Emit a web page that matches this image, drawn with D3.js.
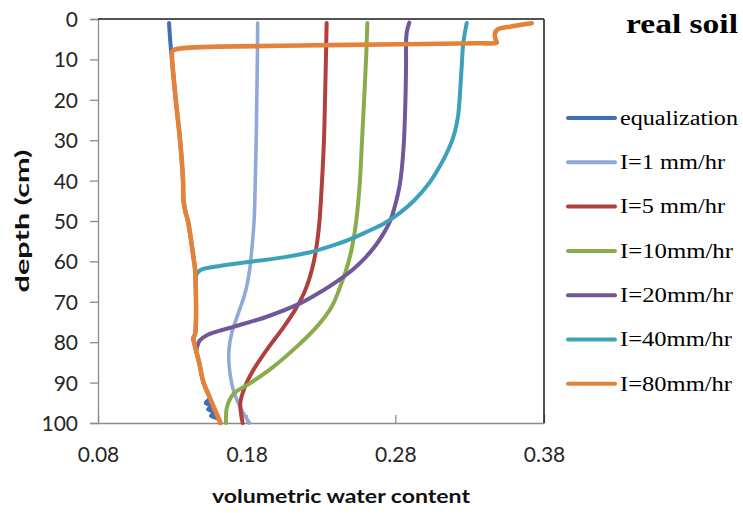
<!DOCTYPE html>
<html>
<head>
<meta charset="utf-8">
<script src="https://cdn.jsdelivr.net/npm/d3@7"></script>
<style>
  html, body { margin: 0; padding: 0; background: #ffffff; }
  svg { display: block; }
</style>
</head>
<body>
<svg id="chart" width="743" height="513"></svg>
<script>
// Soil moisture profiles: [depth (cm), volumetric water content]
const equalization = [
  [1, 0.1278], [4, 0.1283], [8, 0.1292], [10, 0.1298], [20, 0.1323], [30, 0.1352],
  [40, 0.1372], [45, 0.1375], [48, 0.1390], [50, 0.1405], [60, 0.1446], [62, 0.1453],
  [78, 0.1453], [79, 0.1441], [80, 0.1446], [85, 0.1480], [90, 0.1510], [93, 0.1545],
  [94, 0.1550], [95, 0.1525], [95.8, 0.1565], [96.6, 0.1540], [97.4, 0.1585],
  [98.2, 0.1560], [99, 0.1610], [100, 0.1622]
];
const i1 = [
  [1, 0.1874], [10, 0.1872], [20, 0.1868], [30, 0.1864], [40, 0.1858], [50, 0.1850],
  [57.2, 0.1834], [62.1, 0.1820], [67.9, 0.1789], [72.8, 0.1744], [77.8, 0.1699],
  [81.9, 0.1681], [86.1, 0.1683], [91.8, 0.1710], [96, 0.1755], [100, 0.1818]
];
const i5 = [
  [1, 0.2338], [10, 0.2333], [20, 0.2327], [30, 0.2320], [40, 0.2307], [50, 0.2290],
  [55, 0.2275], [60, 0.2252], [64, 0.2224], [68, 0.2184], [72, 0.2126], [76.2, 0.2050],
  [81.9, 0.1935], [86.9, 0.1845], [91, 0.1789], [95.1, 0.1757], [100, 0.1773]
];
const i10 = [
  [1, 0.2612], [10, 0.2603], [20, 0.2590], [30, 0.2576], [40, 0.2562], [50, 0.2537],
  [57, 0.2506], [62, 0.2470], [66, 0.2432], [71.2, 0.2372], [76.2, 0.2271], [81.1, 0.2137],
  [86.1, 0.1979], [90.2, 0.1822], [92.8, 0.1712], [96, 0.1668], [100, 0.1661]
];
const i20 = [
  [0.9, 0.2894], [3.5, 0.2876], [12, 0.2872], [20, 0.2868], [32, 0.2855],
  [41, 0.2830], [47, 0.2792], [50, 0.2765], [53, 0.2722], [56, 0.2668], [59, 0.2600],
  [62, 0.2515], [65, 0.2405], [67.5, 0.2300], [70.4, 0.2159], [73.7, 0.1935],
  [76.2, 0.1710], [78.2, 0.1535], [79.6, 0.1484], [81.5, 0.1464], [82.5, 0.1460]
];
const i40 = [
  [1, 0.3280], [6, 0.3257], [12, 0.3246], [20, 0.3232], [24, 0.3222], [28, 0.3200],
  [31, 0.3172], [34, 0.3135], [37, 0.3090], [40.5, 0.3030], [44.8, 0.2930], [48, 0.2830],
  [50.5, 0.2730], [52.8, 0.2600], [54.6, 0.2490], [56.4, 0.2350], [57.8, 0.2220],
  [59, 0.2046], [60.1, 0.1822], [61.2, 0.1610], [62.1, 0.1492], [63.1, 0.1464], [64, 0.1457]
];
const i80 = [
  [1.06, 0.3717], [1.9, 0.3571], [2.55, 0.3490], [3.54, 0.3470], [5.2, 0.3475],
  [5.87, 0.3482], [5.99, 0.3369], [6.26, 0.2831], [6.56, 0.2159], [6.83, 0.1621],
  [7.08, 0.1419], [7.3, 0.1352], [7.67, 0.1311], [8.17, 0.1298], [9.2, 0.1298],
  [10, 0.1298], [20, 0.1323], [30, 0.1352], [40, 0.1372], [45, 0.1375], [48, 0.1390],
  [50, 0.1405], [60, 0.1446], [62, 0.1453], [78, 0.1453], [79, 0.1441], [80, 0.1446],
  [85, 0.1480], [90, 0.1510], [95, 0.1567], [100, 0.1624]
];

const seriesNames = ["equalization", "I=1 mm/hr", "I=5 mm/hr", "I=10mm/hr", "I=20mm/hr", "I=40mm/hr", "I=80mm/hr"];
const seriesData = [equalization, i1, i5, i10, i20, i40, i80];
const seriesColors = ["#3f6fb4", "#8faad8", "#b0403e", "#8aad4c", "#705799", "#3ea1bb", "#e4823a"];
const seriesWidths = [4, 3.6, 4, 4, 4, 4, 4.6];

const depthTicks = [0, 10, 20, 30, 40, 50, 60, 70, 80, 90, 100];
const thetaTicks = [0.08, 0.18, 0.28, 0.38];

const svg = d3.select("#chart");
const plot = { left: 98, right: 544, top: 19, bottom: 423 };

const x = d3.scaleLinear().domain([0.08, 0.38]).range([plot.left, plot.right]);
const y = d3.scaleLinear().domain([0, 100]).range([plot.top, plot.bottom]);

const tickFont = "Lato, 'Open Sans', 'Liberation Sans', sans-serif";
const serifFont = "Liberation Serif, Times New Roman, Times, serif";

// left (depth) axis, ticks outward
const yAxis = svg.append("g")
  .attr("transform", `translate(${plot.left},0)`)
  .call(d3.axisLeft(y).tickValues(depthTicks).tickFormat(d3.format("d")).tickSize(8).tickPadding(12));
yAxis.select(".domain").attr("stroke", "#8c8c8c").attr("stroke-width", 1.3);
yAxis.selectAll(".tick line").attr("stroke", "#8c8c8c").attr("stroke-width", 1.3);
yAxis.selectAll(".tick text")
  .attr("font-family", tickFont).attr("font-size", 21).attr("fill", "#262626")
  .attr("dy", "0.36em");

// bottom (water content) axis, ticks inward
const xAxis = svg.append("g")
  .attr("transform", `translate(0,${plot.bottom})`)
  .call(d3.axisBottom(x).tickValues(thetaTicks).tickFormat(d3.format(".2f")).tickSizeInner(-8).tickSizeOuter(0).tickPadding(24));
xAxis.select(".domain").attr("stroke", "#8c8c8c").attr("stroke-width", 1.3);
xAxis.selectAll(".tick line").attr("stroke", "#8c8c8c").attr("stroke-width", 1.3);
xAxis.selectAll(".tick text")
  .attr("font-family", tickFont).attr("font-size", 21).attr("fill", "#262626");

// plot frame: top and right edges
svg.append("line").attr("x1", plot.left).attr("x2", plot.right).attr("y1", plot.top).attr("y2", plot.top)
  .attr("stroke", "#1a1a1a").attr("stroke-width", 1.5);
svg.append("line").attr("x1", plot.right).attr("x2", plot.right).attr("y1", plot.top).attr("y2", plot.bottom)
  .attr("stroke", "#1a1a1a").attr("stroke-width", 1.5);

// profiles
const line = d3.line()
  .x(d => x(d[1]))
  .y(d => y(d[0]))
  .curve(d3.curveCatmullRom.alpha(0.5));

svg.append("g").selectAll("path")
  .data(seriesData)
  .join("path")
  .attr("d", line)
  .attr("fill", "none")
  .attr("stroke", (d, i) => seriesColors[i])
  .attr("stroke-width", (d, i) => seriesWidths[i])
  .attr("stroke-linecap", "round")
  .attr("stroke-linejoin", "round");

// axis titles
svg.append("text")
  .attr("x", 341).attr("y", 503)
  .attr("text-anchor", "middle")
  .attr("font-family", tickFont).attr("font-weight", "bold").attr("font-size", 19)
  .attr("fill", "#111")
  .attr("textLength", 258).attr("lengthAdjust", "spacingAndGlyphs")
  .text("volumetric water content");

svg.append("text")
  .attr("transform", "translate(29,221) rotate(-90)")
  .attr("text-anchor", "middle")
  .attr("font-family", tickFont).attr("font-weight", "bold").attr("font-size", 19)
  .attr("fill", "#111")
  .attr("textLength", 143).attr("lengthAdjust", "spacingAndGlyphs")
  .text("depth (cm)");

// title
svg.append("text")
  .attr("x", 626).attr("y", 33)
  .style("font-family", serifFont)
  .attr("font-weight", "bold").attr("font-size", 27).attr("fill", "#000")
  .attr("textLength", 112).attr("lengthAdjust", "spacingAndGlyphs")
  .text("real soil");

// legend
const legendWidths = [118, 105, 105, 113, 113, 112, 112];
const legend = svg.append("g");
const rows = legend.selectAll("g")
  .data(seriesNames)
  .join("g")
  .attr("transform", (d, i) => `translate(0,${118 + i * 44.3})`);
rows.append("line")
  .attr("x1", 568).attr("x2", 615).attr("y1", 0).attr("y2", 0)
  .attr("stroke", (d, i) => seriesColors[i])
  .attr("stroke-width", 4).attr("stroke-linecap", "round");
rows.append("text")
  .attr("x", 620).attr("y", 6.8)
  .style("font-family", serifFont)
  .attr("font-size", 20).attr("fill", "#000")
  .attr("textLength", (d, i) => legendWidths[i]).attr("lengthAdjust", "spacingAndGlyphs")
  .text(d => d);
</script>
</body>
</html>
